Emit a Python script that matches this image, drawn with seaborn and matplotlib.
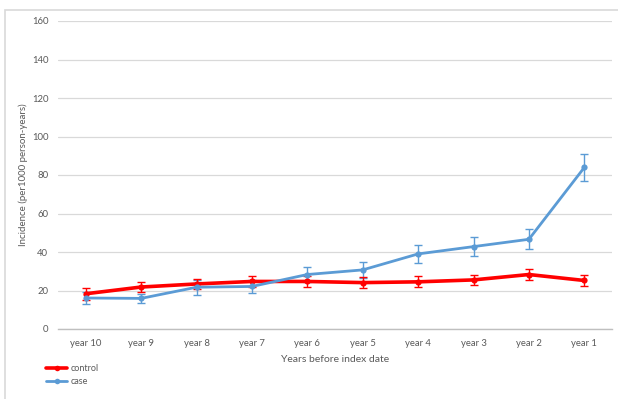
import matplotlib
matplotlib.use("Agg")
import matplotlib.pyplot as plt
import seaborn as sns
import pandas as pd
from matplotlib.patches import Rectangle
from matplotlib.lines import Line2D

# Incidence per 1000 person-years by year before index date
years = ["year 10", "year 9", "year 8", "year 7", "year 6",
         "year 5", "year 4", "year 3", "year 2", "year 1"]
control = [18.3, 21.8, 23.4, 24.7, 24.7, 24.1, 24.5, 25.5, 28.3, 25.2]
control_err = [3.0, 2.8, 2.6, 3.0, 2.8, 2.8, 2.8, 2.8, 3.0, 2.9]
case = [16.1, 15.9, 21.7, 22.1, 28.3, 30.7, 39.0, 42.8, 46.6, 83.9]
case_err = [3.0, 2.4, 3.8, 3.4, 4.0, 4.0, 4.7, 5.0, 5.2, 6.9]

series_names = ["control", "case"]
series_colors = {"control": "#FF0000", "case": "#5B9BD5"}

sns.set_theme(style="white")
plt.rcParams["font.family"] = ["Lato", "DejaVu Sans"]

df = pd.concat([
    pd.DataFrame({"pos": range(len(years)), "value": control, "err": control_err, "series": "control"}),
    pd.DataFrame({"pos": range(len(years)), "value": case, "err": case_err, "series": "case"}),
])

fig = plt.figure(figsize=(6.18, 3.99), dpi=100)
ax = fig.add_axes([58 / 618, 1 - 329 / 399, (612 - 58) / 618, (329 - 21) / 399])

# outer chart frame
fig.patches.append(Rectangle((5 / 618, -0.1), 1.1, 1 - 10 / 399 + 0.1,
                             transform=fig.transFigure, fill=False,
                             edgecolor="#D9D9D9", linewidth=1.2, zorder=0))

text_color = "#595959"
widths = {"control": 2.6, "case": 2.0}

for name in ["case", "control"]:
    sub = df[df["series"] == name]
    ax.errorbar(sub["pos"], sub["value"], yerr=sub["err"], fmt="none",
                ecolor=series_colors[name], elinewidth=1.0, capsize=3.2,
                capthick=1.0, zorder=2)

sns.lineplot(data=df, x="pos", y="value", hue="series", hue_order=series_names,
             palette=series_colors, marker="o", markersize=4.5,
             markeredgewidth=0, ax=ax, legend=False, zorder=3)
for line in ax.lines:
    c = matplotlib.colors.to_hex(line.get_color()).upper()
    line.set_linewidth(widths["control"] if c == "#FF0000" else widths["case"])

ax.set_xlim(-0.5, len(years) - 0.5)
ax.set_ylim(0, 160)
ax.set_yticks(range(0, 161, 20))
ax.set_xticks(range(len(years)))
ax.set_xticklabels(years)
ax.grid(axis="y", color="#D9D9D9", linewidth=0.9)
ax.set_axisbelow(True)
for side in ["top", "right", "left"]:
    ax.spines[side].set_visible(False)
ax.spines["bottom"].set_color("#BFBFBF")
ax.spines["bottom"].set_linewidth(1.0)
ax.tick_params(axis="both", length=0, labelsize=6.8, labelcolor=text_color)
ax.tick_params(axis="x", pad=7)
ax.tick_params(axis="y", pad=7)

ax.set_xlabel("Years before index date", fontsize=7.5, color=text_color, labelpad=5)
ax.set_ylabel("Incidence (per1000 person-years)", fontsize=7, color=text_color, labelpad=3)

handles = [Line2D([0], [0], color=series_colors[n], lw=widths[n], marker="o",
                  markersize=4, markeredgewidth=0) for n in series_names]
fig.legend(handles, series_names, loc="upper left",
           bbox_to_anchor=(40 / 618, 1 - 358 / 399), frameon=False,
           fontsize=6.5, labelcolor=text_color, handlelength=2.3,
           handletextpad=0.35, labelspacing=0.4, borderpad=0.2)

fig.savefig("out.png", dpi=100, facecolor="white")
